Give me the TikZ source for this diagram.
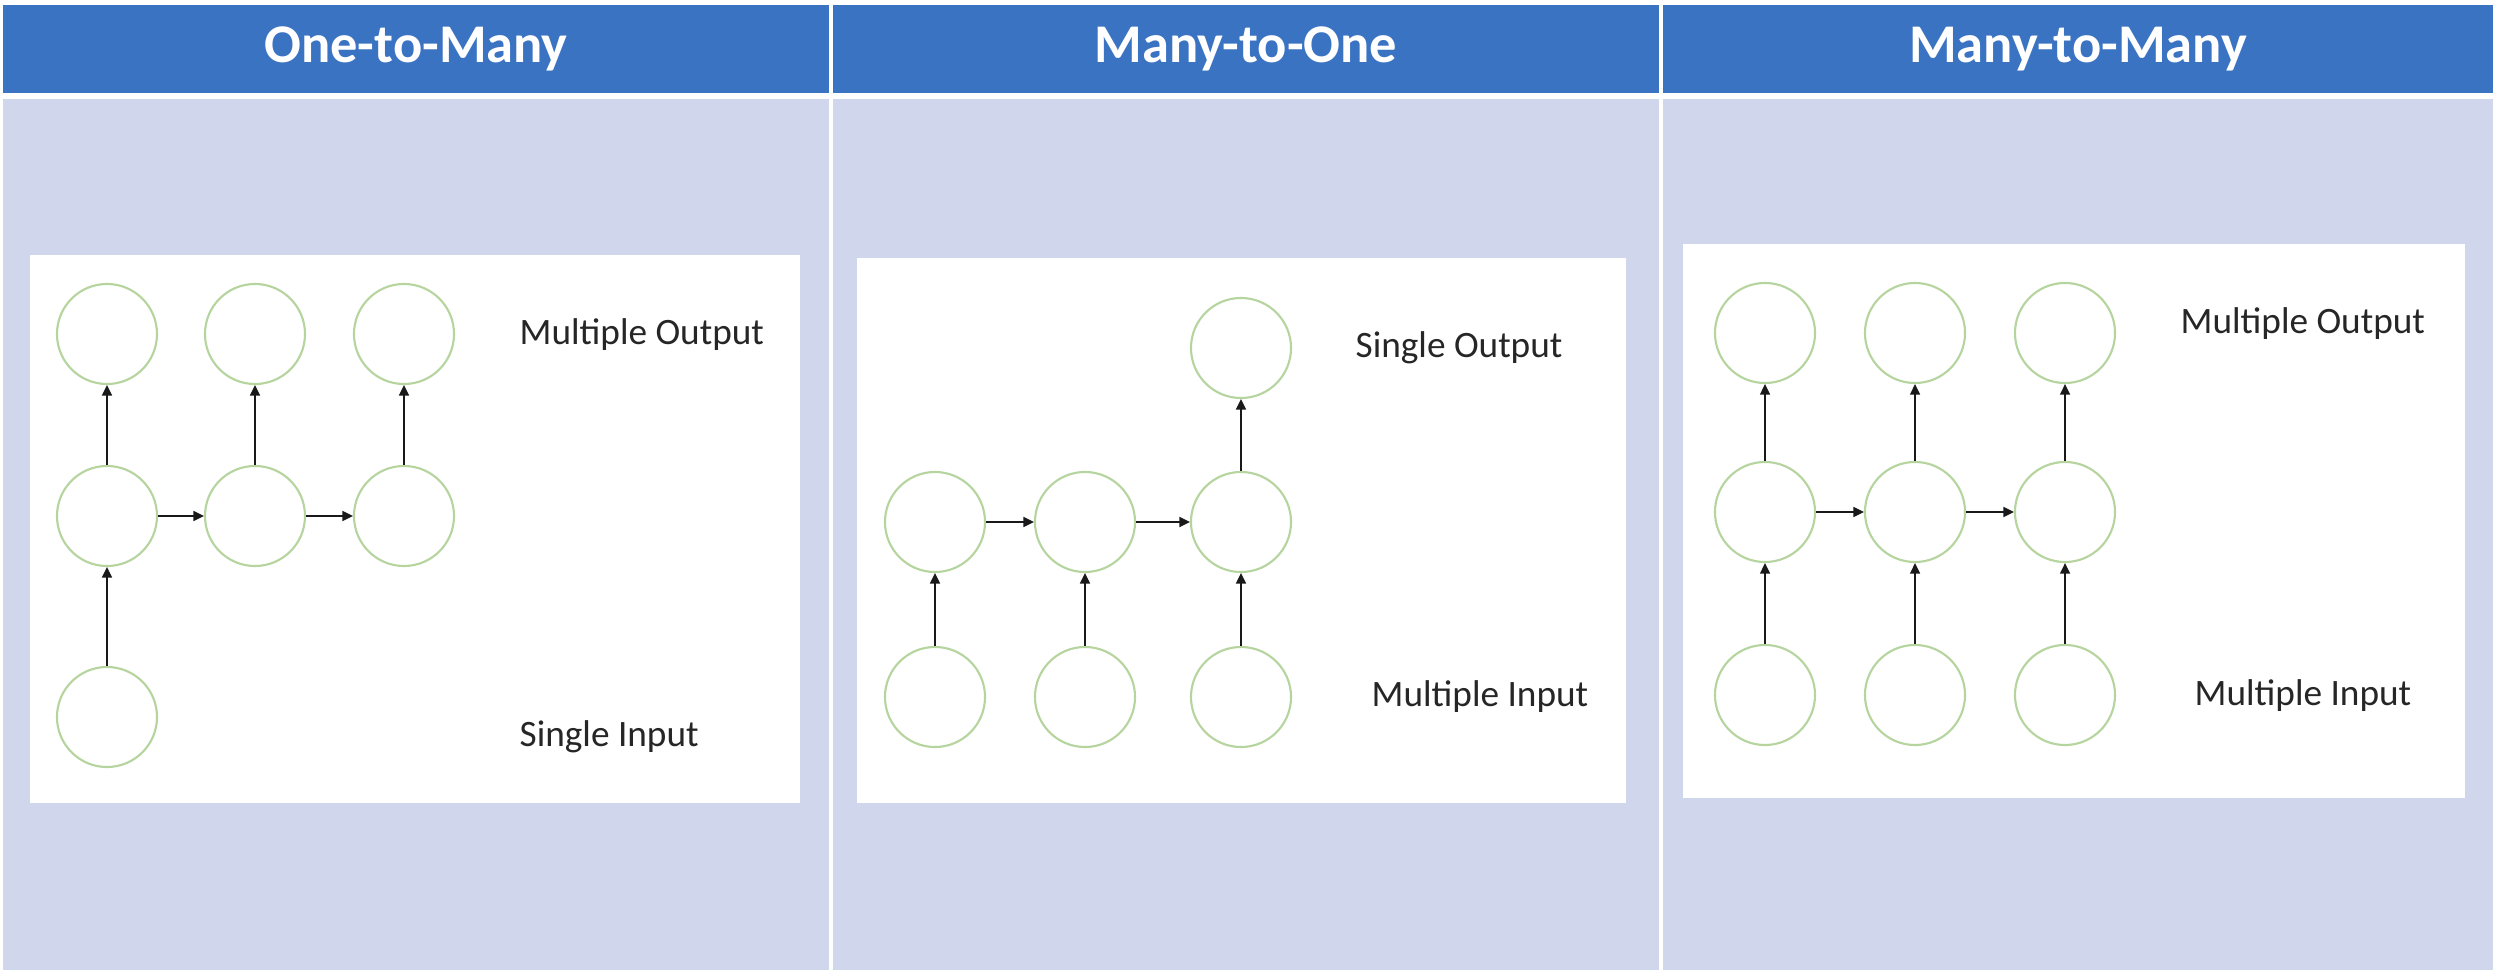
\documentclass[tikz,border=0pt]{standalone}
\usepackage{fontspec}
\setmainfont{Carlito}
\usepackage{xcolor}
\definecolor{headblue}{HTML}{3B73C3}
\definecolor{lavender}{HTML}{D0D6EB}
\definecolor{cellgreen}{HTML}{B5D49E}
\usetikzlibrary{arrows.meta,positioning}
\tikzset{
    x=0.01cm,y=-0.01cm,
    cell/.style ={circle, draw=cellgreen, line width=0.6pt, fill=white, minimum size=1cm, inner sep=0pt},
    conn/.style = {-{Triangle[length=3pt,width=2.8pt]}, line width=0.55pt, black!90},
    title/.style = {text=white, font=\bfseries\fontsize{15.5}{18}\selectfont},
    lbl/.style = {anchor=west, inner sep=0pt, font=\fontsize{10.6}{13}\selectfont, text=black!85}
}

\begin{document}
\begin{tikzpicture}
      \useasboundingbox (0,0) rectangle (2502,976);
      \fill[white] (0,0) rectangle (2502,976);

      % header and body columns
      \fill[headblue] (3,5) rectangle (829,93);
      \fill[headblue] (833,5) rectangle (1659,93);
      \fill[headblue] (1663,5) rectangle (2493,93);
      \fill[lavender] (3,99) rectangle (829,970);
      \fill[lavender] (833,99) rectangle (1659,970);
      \fill[lavender] (1663,99) rectangle (2493,970);
      \node[title] (T1) at (416,49) {One-to-Many};
      \node[title] (T2) at (1246,49) {Many-to-One};
      \node[title] (T3) at (2078,49) {Many-to-Many};

      % white panels
      \fill[white] (30,255) rectangle (800,803);
      \fill[white] (857,258) rectangle (1626,803);
      \fill[white] (1683,244) rectangle (2465,798);

      % one-to-many
      \node[cell] (Ay1) at (107,334) {};
      \node[cell] (Ay2) at (255,334) {};
      \node[cell] (Ay3) at (404,334) {};
      \node[cell] (Ah1) at (107,516) {};
      \node[cell] (Ah2) at (255,516) {};
      \node[cell] (Ah3) at (404,516) {};
      \node[cell] (Ax1) at (107,717) {};
      \node[lbl] (Aout) at (519,335) {Multiple Output};
      \node[lbl] (Ain) at (519,737) {Single Input};

      \path[conn] (Ax1) edge (Ah1);
      \path[conn] (Ah1) edge (Ah2);
      \path[conn] (Ah2) edge (Ah3);
      \path[conn] (Ah1) edge (Ay1);
      \path[conn] (Ah2) edge (Ay2);
      \path[conn] (Ah3) edge (Ay3);

      % many-to-one
      \node[cell] (By3) at (1241,348) {};
      \node[cell] (Bh1) at (935,522) {};
      \node[cell] (Bh2) at (1085,522) {};
      \node[cell] (Bh3) at (1241,522) {};
      \node[cell] (Bx1) at (935,697) {};
      \node[cell] (Bx2) at (1085,697) {};
      \node[cell] (Bx3) at (1241,697) {};
      \node[lbl] (Bout) at (1355,348) {Single Output};
      \node[lbl] (Bin) at (1371,697) {Multiple Input};

      \path[conn] (Bx1) edge (Bh1);
      \path[conn] (Bx2) edge (Bh2);
      \path[conn] (Bx3) edge (Bh3);
      \path[conn] (Bh1) edge (Bh2);
      \path[conn] (Bh2) edge (Bh3);
      \path[conn] (Bh3) edge (By3);

      % many-to-many
      \node[cell] (Cy1) at (1765,333) {};
      \node[cell] (Cy2) at (1915,333) {};
      \node[cell] (Cy3) at (2065,333) {};
      \node[cell] (Ch1) at (1765,512) {};
      \node[cell] (Ch2) at (1915,512) {};
      \node[cell] (Ch3) at (2065,512) {};
      \node[cell] (Cx1) at (1765,695) {};
      \node[cell] (Cx2) at (1915,695) {};
      \node[cell] (Cx3) at (2065,695) {};
      \node[lbl] (Cout) at (2180,324) {Multiple Output};
      \node[lbl] (Cin) at (2194,696) {Multiple Input};

      \path[conn] (Cx1) edge (Ch1);
      \path[conn] (Cx2) edge (Ch2);
      \path[conn] (Cx3) edge (Ch3);
      \path[conn] (Ch1) edge (Ch2);
      \path[conn] (Ch2) edge (Ch3);
      \path[conn] (Ch1) edge (Cy1);
      \path[conn] (Ch2) edge (Cy2);
      \path[conn] (Ch3) edge (Cy3);
    \end{tikzpicture}
\end{document}
